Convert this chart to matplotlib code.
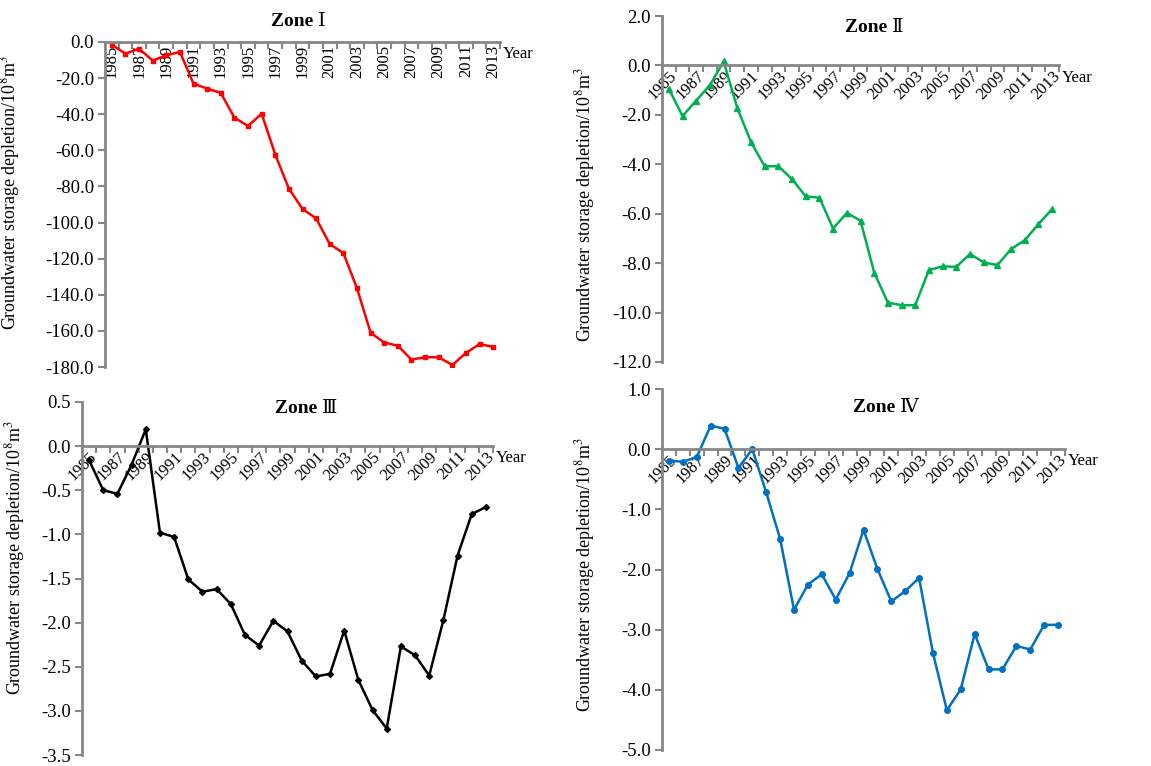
import matplotlib
matplotlib.use('Agg')
import matplotlib.pyplot as plt
import numpy as np
from matplotlib.ticker import FormatStrFormatter

plt.rcParams['font.family'] = ['Liberation Serif', 'DejaVu Serif', 'Noto Sans CJK SC']
plt.rcParams['mathtext.fontset'] = 'stix'
plt.rcParams['axes.unicode_minus'] = False

# Data (10^8 m^3)
years = list(range(1985, 2014))
zone1 = [-1.5, -6.5, -3.7, -10.3, -7.4, -5.5, -23.1, -25.8, -28.2, -41.9,
         -46.5, -39.7, -62.4, -81.2, -92.5, -97.7, -111.9, -116.9, -136.4, -161.0,
         -166.5, -168.2, -175.9, -174.6, -174.6, -178.9, -172.2, -167.3, -168.9]
zone2 = [-0.95, -2.05, -1.42, -0.8, 0.16, -1.72, -3.1, -4.08, -4.08, -4.6,
         -5.3, -5.35, -6.6, -5.97, -6.28, -8.38, -9.6, -9.7, -9.7, -8.28,
         -8.13, -8.15, -7.63, -7.97, -8.08, -7.43, -7.07, -6.42, -5.81]
zone3 = [-0.16, -0.50, -0.54, -0.21, 0.19, -0.98, -1.03, -1.51, -1.65, -1.62,
         -1.79, -2.14, -2.26, -1.98, -2.10, -2.43, -2.61, -2.58, -2.09, -2.65,
         -2.99, -3.20, -2.27, -2.37, -2.60, -1.97, -1.24, -0.77, -0.69]
zone4 = [-0.19, -0.21, -0.13, 0.39, 0.34, -0.31, 0.0, -0.72, -1.49, -2.67,
         -2.25, -2.08, -2.50, -2.06, -1.34, -1.99, -2.53, -2.36, -2.14, -3.39,
         -4.34, -3.99, -3.07, -3.66, -3.66, -3.27, -3.33, -2.92, -2.92]

W, H = 1151, 766
fig = plt.figure(figsize=(W / 100, H / 100), dpi=100)

axis_grey = '#868686'
ylab = 'Groundwater storage depletion/10$^{8}$m$^{3}$'


def add_panel(box, values, color, marker, ms, ylim, ystep, rot, numeral, title_px, ylabel_px):
    # box in pixels: left, top, right, bottom
    l, t, r, b = box
    ax = fig.add_axes([l / W, 1 - b / H, (r - l) / W, (b - t) / H])
    x = np.arange(len(years))
    ax.plot(x, values, color=color, marker=marker, ms=ms, lw=1.8)
    ax.set_xlim(-0.5, len(years) - 0.5)
    ax.set_ylim(*ylim)
    ax.set_yticks(np.arange(ylim[0], ylim[1] + ystep / 2, ystep))
    ax.yaxis.set_major_formatter(FormatStrFormatter('%.1f'))
    ax.tick_params(axis='y', length=5, width=1.5, color=axis_grey, labelsize=13.5, pad=3)

    for s in ['top', 'right']:
        ax.spines[s].set_visible(False)
    for s in ['left', 'bottom']:
        ax.spines[s].set_color(axis_grey)
        ax.spines[s].set_linewidth(2)
    ax.spines['bottom'].set_position(('data', 0))

    # category axis: labels on odd years, tick marks between categories
    ax.set_xticks(x[::2])
    ax.set_xticklabels([str(y) for y in years[::2]])
    ax.tick_params(axis='x', which='major', length=0, labelsize=12, pad=2)
    ax.set_xticks(np.arange(-0.5, len(years)), minor=True)
    ax.tick_params(axis='x', which='minor', length=5, width=1.5, color=axis_grey)
    for lab in ax.get_xticklabels():
        if rot == 90:
            lab.set(rotation=90, ha='center', va='top')
        else:
            lab.set(rotation=rot, ha='right', va='top', rotation_mode='anchor')

    ax.annotate('Year', xy=(len(years) - 0.5, 0), xytext=(2, -3),
                textcoords='offset points', ha='left', va='top', fontsize=12)

    ax.set_ylabel(ylab, fontsize=13)
    ax.yaxis.set_label_coords((ylabel_px[0] - l) / (r - l), (b - ylabel_px[1]) / (b - t))

    # title: bold "Zone" followed by a plain roman numeral
    tx, ty = title_px[0] / W, 1 - title_px[1] / H
    fig.text(tx, ty, 'Zone ', fontsize=14, fontweight='bold', ha='right', va='center')
    fig.text(tx, ty, numeral, fontsize=14, ha='left', va='center')
    return ax


add_panel((105, 42, 500, 367), zone1, '#FF0000', 's', 3.5, (-180, 0), 20, 90,
          'Ⅰ', (318, 22), (22, 193))
add_panel((662, 16, 1059, 362), zone2, '#00B050', '^', 4, (-12, 2), 2, 45,
          'Ⅱ', (892, 28), (597, 205))
add_panel((82, 402, 493, 755), zone3, '#000000', 'D', 3, (-3.5, 0.5), 0.5, 45,
          'Ⅲ', (322, 409), (27, 558))
add_panel((662, 389, 1065, 750), zone4, '#0070C0', 'o', 4, (-5, 1), 1, 45,
          'Ⅳ', (900, 408), (597, 575))

plt.savefig('out.png', dpi=100)
